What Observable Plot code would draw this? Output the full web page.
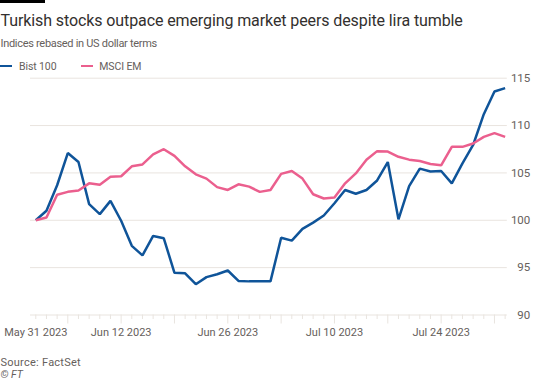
<!DOCTYPE html>
<html>
<head>
<meta charset="utf-8">
<script src="https://cdn.jsdelivr.net/npm/d3@7"></script>
<script src="https://cdn.jsdelivr.net/npm/@observablehq/plot@0.6"></script>
<style>
  html, body { margin: 0; padding: 0; background: #ffffff; }
  body { width: 534px; height: 382px; position: relative; overflow: hidden; font-family: Roboto, "Noto Sans", sans-serif; }
  .bar { position: absolute; left: 0; top: 0; width: 45px; height: 3px; background: #000; }
  .title { position: absolute; left: 0.5px; top: 11.2px; font-size: 16px; letter-spacing: -0.1px; color: #33302e; white-space: nowrap; line-height: normal; }
  .subtitle { position: absolute; left: 0.5px; top: 36.5px; font-size: 11px; letter-spacing: -0.3px; color: #66605c; white-space: nowrap; line-height: normal; }
  .legend { position: absolute; left: 0; top: 0; width: 200px; height: 80px; font-size: 10.5px; color: #66605c; }
  .legend .sw { position: absolute; top: 64.5px; width: 12.3px; height: 2.5px; }
  .legend .lt { position: absolute; top: 59.6px; white-space: nowrap; line-height: normal; letter-spacing: -0.1px; }
  #chart { position: absolute; left: 0; top: 72px; }
  .source { position: absolute; left: 0.5px; top: 356.9px; font-size: 11px; letter-spacing: 0.25px; color: #66605c; white-space: nowrap; line-height: 11px; }
  .copy { position: absolute; left: 0.5px; top: 370.3px; font-size: 10.5px; color: #66605c; font-style: italic; white-space: nowrap; line-height: 10.5px; }
</style>
</head>
<body>
<div class="bar"></div>
<div class="title">Turkish stocks outpace emerging market peers despite lira tumble</div>
<div class="subtitle">Indices rebased in US dollar terms</div>
<div class="legend" id="legend"></div>
<div id="chart"></div>
<div class="source">Source: FactSet</div>
<div class="copy">© FT</div>
<script>
const dates = [
  "2023-05-31",
  "2023-06-01","2023-06-02","2023-06-05","2023-06-06","2023-06-07","2023-06-08","2023-06-09",
  "2023-06-12","2023-06-13","2023-06-14","2023-06-15","2023-06-16","2023-06-19","2023-06-20",
  "2023-06-21","2023-06-22","2023-06-23","2023-06-26","2023-06-27","2023-06-28","2023-06-29","2023-06-30",
  "2023-07-03","2023-07-04","2023-07-05","2023-07-06","2023-07-07","2023-07-10","2023-07-11",
  "2023-07-12","2023-07-13","2023-07-14","2023-07-17","2023-07-18","2023-07-19","2023-07-20",
  "2023-07-21","2023-07-24","2023-07-25","2023-07-26","2023-07-27","2023-07-28","2023-07-31",
  "2023-08-01"
];
const bist100 = [
  100.0, 101.0, 103.7, 107.1, 106.15, 101.7, 100.65, 102.05, 99.95, 97.3,
  96.3, 98.35, 98.1, 94.45, 94.4, 93.25, 94.0, 94.3, 94.7, 93.6,
  93.55, 93.55, 93.55, 98.15, 97.85, 99.1, 99.75, 100.5, 101.8, 103.2,
  102.8, 103.2, 104.2, 106.15, 100.1, 103.6, 105.45, 105.15, 105.2, 103.9,
  106.0, 107.95, 111.2, 113.6, 113.95
];
const msciEM = [
  100.0, 100.3, 102.7, 103.0, 103.15, 103.9, 103.75, 104.6, 104.65, 105.7,
  105.9, 106.95, 107.5, 106.8, 105.7, 104.85, 104.4, 103.5, 103.2, 103.8,
  103.55, 103.0, 103.2, 104.9, 105.2, 104.4, 102.75, 102.3, 102.4, 103.9,
  104.95, 106.4, 107.3, 107.25, 106.7, 106.4, 106.25, 105.95, 105.8, 107.75,
  107.75, 108.1, 108.8, 109.2, 108.8
];
const seriesNames = ["Bist 100", "MSCI EM"];
const seriesColors = ["#0f5499", "#eb5f8e"];
const yTicks = [90, 95, 100, 105, 110, 115];
const labelDates = ["2023-05-31", "2023-06-12", "2023-06-26", "2023-07-10", "2023-07-24"];
const labelTexts = ["May 31 2023", "Jun 12 2023", "Jun 26 2023", "Jul 10 2023", "Jul 24 2023"];

const rows = [];
dates.forEach((d, i) => {
  rows.push({date: d, value: bist100[i], series: seriesNames[0]});
  rows.push({date: d, value: msciEM[i], series: seriesNames[1]});
});
const mondays = dates.filter(d => new Date(d + "T00:00:00Z").getUTCDay() === 1);
const otherDays = dates.filter(d => !mondays.includes(d));
const labelOf = new Map(labelDates.map((d, i) => [d, labelTexts[i]]));

// legend (line swatches)
const legend = document.getElementById("legend");
const swLeft = [0, 81];
const txLeft = [19, 99.3];
seriesNames.forEach((n, i) => {
  const sw = document.createElement("div");
  sw.className = "sw";
  sw.style.left = swLeft[i] + "px";
  sw.style.background = seriesColors[i];
  const tx = document.createElement("div");
  tx.className = "lt";
  tx.style.left = txLeft[i] + "px";
  tx.textContent = n;
  legend.appendChild(sw); legend.appendChild(tx);
});

const axisColor = "#66605c";
const gridColor = "#e9e4df";

const chart = Plot.plot({
  width: 534,
  height: 278,
  marginTop: 5.7,
  marginBottom: 35.5,
  marginLeft: 30,
  marginRight: 27.2,
  style: {fontFamily: "Roboto, 'Noto Sans', sans-serif", fontSize: "11px", color: axisColor, background: "transparent"},
  x: {type: "point", domain: dates, padding: 0.35, align: 0.71, round: false, label: null},
  y: {domain: [90, 115], axis: null},
  color: {domain: seriesNames, range: seriesColors},
  marks: [
    Plot.gridY(yTicks, {stroke: gridColor, strokeOpacity: 1, strokeWidth: 1}),
    Plot.axisX({ticks: otherDays, tickSize: 4.5, tickFormat: () => "", label: null, stroke: gridColor, strokeOpacity: 1}),
    Plot.axisX({ticks: mondays, tickSize: 9, tickFormat: () => "", label: null, stroke: gridColor, strokeOpacity: 1}),
    Plot.axisX({ticks: labelDates, tickSize: 0, tickPadding: 13.5, tickFormat: d => labelOf.get(d), label: null, fill: axisColor, fontSize: 11}),
    Plot.text(yTicks, {y: d => d, text: d => String(d), frameAnchor: "right", textAnchor: "end", dx: 23, fill: axisColor, fontSize: 11.5}),
    Plot.line(rows, {x: "date", y: "value", z: "series", stroke: "series", strokeWidth: 2.5, strokeLinejoin: "miter", strokeLinecap: "butt"})
  ]
});
document.getElementById("chart").appendChild(chart);
</script>
</body>
</html>
